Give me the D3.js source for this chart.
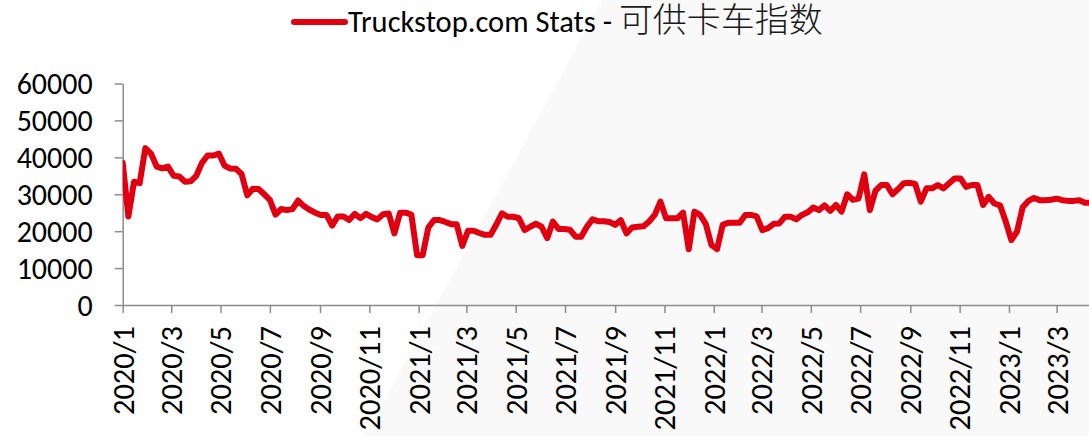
<!DOCTYPE html>
<html>
<head>
<meta charset="utf-8">
<script src="https://cdn.jsdelivr.net/npm/d3@7"></script>
<style>
  html, body { margin: 0; padding: 0; background: #ffffff; }
  svg { display: block; }
  .lbl { font-family: Carlito, Lato, "Open Sans", sans-serif; fill: #000; }
</style>
</head>
<body>
<svg id="chart" width="1089" height="436"></svg>
<script>
// Series name shown in the legend
const seriesName = "Truckstop.com Stats - ";
const seriesNameCJK = "可供卡车指数";

// First week of the weekly series
const firstWeek = "2020-01-01";
const lastDay = "2023-04-10";

// Weekly truck availability index values
const truckValues = [
  38500, 24000, 33400, 33000, 42500, 41000, 37500, 37000, 37500, 35000,
  34800, 33400, 33500, 35000, 38500, 40500, 40500, 41000, 37700, 37000,
  36900, 35500, 29700, 31500, 31400, 30000, 28500, 24500, 26000, 25700,
  26000, 28300, 26800, 25800, 25000, 24400, 24400, 21500, 24000, 24000,
  23000, 24700, 23500, 24700, 23800, 23200, 24600, 24800, 19400, 25000,
  25000, 24500, 13500, 13500, 21000, 23000, 23000, 22500, 21900, 21900,
  16000, 20100, 20100, 19500, 19000, 19000, 21800, 24800, 23900, 23900,
  23500, 20300, 21200, 22000, 21200, 18100, 22600, 20600, 20600, 20400,
  18500, 18500, 21200, 23200, 22700, 22700, 22500, 21700, 23000, 19400,
  21000, 21200, 21300, 22600, 24400, 28000, 23500, 23500, 23500, 25000,
  15100, 25300, 24400, 22000, 16300, 15100, 21700, 22300, 22300, 22300,
  24400, 24400, 24000, 20300, 20800, 22000, 22100, 23900, 23900, 23200,
  24400, 25100, 26400, 25700, 27000, 25500, 27100, 25300, 30000, 28500,
  28800, 35400, 25700, 31000, 32500, 32500, 30000, 31400, 33000, 33100,
  32800, 28000, 31600, 31600, 32500, 31600, 33000, 34300, 34300, 32000,
  32500, 32500, 27100, 29300, 27500, 27000, 22600, 17600, 19900, 26500,
  28200, 29000, 28400, 28400, 28500, 28800, 28400, 28200, 28200, 28400,
  27700, 27700
];

// Y axis tick values
const yTicks = [0, 10000, 20000, 30000, 40000, 50000, 60000];

const parse = d3.timeParse("%Y-%m-%d");
const start = parse(firstWeek);
const data = truckValues.map((v, i) => ({ date: d3.timeDay.offset(start, 7 * i), value: v }));

const W = 1089, H = 436;
const plotLeft = 122.7, plotRight = 1089, plotTop = 83.5, plotBottom = 305;
const axisColor = "#8c8c8c";
const red = "#e0000f";

const svg = d3.select("#chart");

// Soft diagonal backdrop panel
svg.append("polygon")
  .attr("points", `602,0 ${W},0 ${W},${H} 365,${H}`)
  .attr("fill", "#f9f9f9");

const x = d3.scaleTime().domain([start, parse(lastDay)]).range([plotLeft, plotRight]);
const y = d3.scaleLinear().domain([0, 60000]).range([plotBottom, plotTop]);

// Y axis
const yAxis = svg.append("g")
  .attr("transform", `translate(${plotLeft},0)`)
  .call(d3.axisLeft(y).tickValues(yTicks).tickSize(8).tickSizeOuter(0).tickPadding(22).tickFormat(d3.format("d")));
yAxis.select(".domain").attr("stroke", axisColor).attr("stroke-width", 1.5);
yAxis.selectAll(".tick line").attr("stroke", axisColor).attr("stroke-width", 1.5);
yAxis.selectAll(".tick text")
  .attr("class", "lbl")
  .attr("font-size", 30)
  .attr("dy", "0.34em");

// X axis
const xAxis = svg.append("g")
  .attr("transform", `translate(0,${plotBottom})`)
  .call(d3.axisBottom(x).ticks(d3.timeMonth.every(2)).tickSize(8).tickSizeOuter(0).tickFormat(d3.timeFormat("%Y/%-m")));
xAxis.select(".domain").attr("stroke", axisColor).attr("stroke-width", 1.5);
xAxis.selectAll(".tick line").attr("stroke", axisColor).attr("stroke-width", 1.5);
xAxis.selectAll(".tick text")
  .attr("class", "lbl")
  .attr("font-size", 30.5)
  .attr("transform", "rotate(-90)")
  .attr("text-anchor", "end")
  .attr("x", -21)
  .attr("y", 0)
  .attr("dy", "0.34em");

// Clip the series to the plot area
svg.append("clipPath").attr("id", "plotClip")
  .append("rect").attr("x", plotLeft).attr("y", 0).attr("width", plotRight - plotLeft).attr("height", plotBottom);

const line = d3.line().x(d => x(d.date)).y(d => y(d.value));
svg.append("path")
  .datum(data)
  .attr("clip-path", "url(#plotClip)")
  .attr("fill", "none")
  .attr("stroke", red)
  .attr("stroke-width", 6)
  .attr("stroke-linejoin", "round")
  .attr("stroke-linecap", "round")
  .attr("d", line);

// Legend
const legend = svg.append("g");
legend.append("line")
  .attr("x1", 294).attr("x2", 345).attr("y1", 22).attr("y2", 22)
  .attr("stroke", red).attr("stroke-width", 6).attr("stroke-linecap", "round");
const lt = legend.append("text")
  .attr("class", "lbl")
  .attr("x", 348).attr("y", 32)
  .attr("font-size", 30.5);
lt.append("tspan").text(seriesName);
lt.append("tspan")
  .attr("font-family", "'Noto Sans CJK SC', sans-serif")
  .attr("font-weight", 300)
  .attr("font-size", 34)
  .attr("fill", "#1a1a1a")
  .text(seriesNameCJK);
</script>
</body>
</html>
